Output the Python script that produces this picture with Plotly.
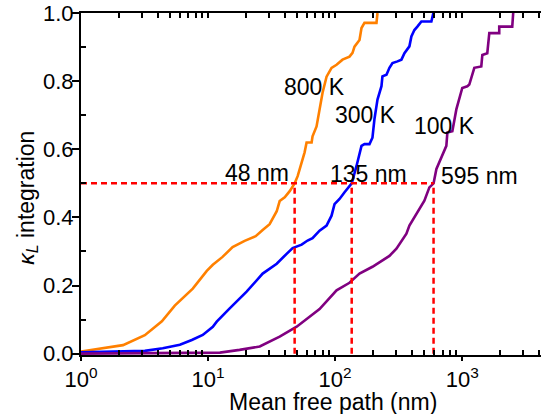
import math
import plotly.graph_objects as go

# ---- data ----
mfp_800 = [1.0, 2.14, 3.18, 4.33, 5.47, 7.58, 9.77, 10.9, 13.0, 15.6, 19.4, 23.7, 26.9, 30.5, 34.7,
           36.6, 40.1, 43.9, 48.0, 50.7, 57.5, 59.6, 65.3, 66.4, 71.4, 75.4, 79.6, 85.6, 93.7, 102.6,
           114.3, 129.7, 137.0, 142.0, 155.5, 161.2, 170.1, 211.5, 215.4]
kap_800 = [0.006, 0.025, 0.054, 0.095, 0.141, 0.191, 0.243, 0.261, 0.284, 0.313, 0.331, 0.345, 0.363, 0.380, 0.418,
           0.448, 0.459, 0.477, 0.500, 0.521, 0.591, 0.620, 0.620, 0.638, 0.667, 0.717, 0.766, 0.813, 0.839, 0.848,
           0.863, 0.872, 0.883, 0.901, 0.921, 0.956, 0.971, 0.971, 1.0]

mfp_300 = [1.0, 3.18, 4.40, 6.0, 7.45, 9.08, 10.9, 11.7, 14.8, 20.1, 26.9, 34.7, 41.5, 46.3, 54.5,
           60.7, 66.4, 75.4, 85.6, 93.7, 98.9, 108.3, 118.6, 135.0, 147.3, 161.2, 170.1, 186.3, 196.6, 203.8,
           215.4, 231.5, 235.6, 253.5, 267.5, 282.6, 309.3, 332.4, 351.0, 384.1, 398.1, 420.5, 443.8, 477.2,
           571.9, 593.0]
kap_300 = [0.004, 0.008, 0.016, 0.026, 0.040, 0.055, 0.079, 0.094, 0.133, 0.182, 0.235, 0.264, 0.293, 0.310, 0.320,
           0.332, 0.339, 0.361, 0.376, 0.405, 0.439, 0.454, 0.474, 0.500, 0.551, 0.610, 0.615, 0.615, 0.634, 0.688,
           0.746, 0.785, 0.814, 0.819, 0.839, 0.853, 0.858, 0.863, 0.882, 0.902, 0.931, 0.950, 0.960, 0.975,
           0.975, 1.0]

mfp_100 = [1.0, 6.0, 12.4, 17.7, 25.5, 36.6, 49.8, 75.4, 102.6, 129.7, 155.5, 196.6, 235.6, 267.5, 303.6,
           363.8, 384.1, 443.8, 503.8, 551.6, 595.0, 626.6, 661.1, 750.2, 764.2, 836.3, 899.0, 948.5, 1001,
           1097, 1137, 1245, 1413, 1440, 1575, 1634, 1956, 1956, 2476, 2519]
kap_100 = [0.0, 0.001, 0.003, 0.011, 0.021, 0.050, 0.079, 0.131, 0.186, 0.208, 0.235, 0.255, 0.274, 0.287, 0.308,
           0.352, 0.376, 0.415, 0.449, 0.488, 0.500, 0.542, 0.561, 0.610, 0.649, 0.653, 0.717, 0.751, 0.780,
           0.785, 0.790, 0.839, 0.843, 0.877, 0.882, 0.941, 0.941, 0.960, 0.960, 1.0]

temps = ["800 K", "300 K", "100 K"]
colors = ["#FF8000", "#0000FF", "#800080"]
half_mfp = [48, 135, 595]
half_labels = ["48 nm", "135 nm", "595 nm"]
half_level = 0.5

# label anchor positions (data units)
temp_label_x = [68.9, 172, 723]
temp_label_y = [0.784, 0.700, 0.668]
half_label_x = [24.3, 183, 1362]
half_label_y = [0.530, 0.527, 0.521]

x_tickvals = [1, 10, 100, 1000]
x_ticktext = ["10<sup>0</sup>", "10<sup>1</sup>", "10<sup>2</sup>", "10<sup>3</sup>"]
x_minor = [m * 10 ** e for e in range(0, 4) for m in range(2, 10)]
y_tickvals = [0.0, 0.2, 0.4, 0.6, 0.8, 1.0]
y_minor = [0.1, 0.3, 0.5, 0.7, 0.9]

x_title = "Mean free path (nm)"
y_title = "<i>κ</i><sub><i>L</i></sub> integration"

FONT = "Liberation Sans, Arial, sans-serif"
LBL = 23
X_RANGE = [0, 3.62]
Y_RANGE = [-0.004, 1.0]

fig = go.Figure()
for xs, ys, c, name in zip([mfp_800, mfp_300, mfp_100], [kap_800, kap_300, kap_100], colors, temps):
    fig.add_trace(go.Scatter(x=xs, y=ys, mode="lines", name=name,
                             line=dict(color=c, width=2.6), showlegend=False))

# dashed guide lines
fig.add_trace(go.Scatter(x=[1, max(half_mfp)], y=[half_level, half_level], mode="lines",
                         line=dict(color="#FF0000", width=2.5, dash="6px,4px"), showlegend=False))
for v in half_mfp:
    fig.add_trace(go.Scatter(x=[v, v], y=[0, half_level], mode="lines",
                             line=dict(color="#FF0000", width=2.5, dash="6px,4px"), showlegend=False))

# labels (annotation x on a log axis is given as log10)
for lx, ly, t in zip(temp_label_x, temp_label_y, temps):
    fig.add_annotation(x=math.log10(lx), y=ly, xref="x", yref="y", text=t, showarrow=False,
                       font=dict(size=LBL, color="black", family=FONT))
for lx, ly, t in zip(half_label_x, half_label_y, half_labels):
    fig.add_annotation(x=math.log10(lx), y=ly, xref="x", yref="y", text=t, showarrow=False,
                       font=dict(size=LBL, color="black", family=FONT))

# axis titles as annotations
fig.add_annotation(x=-0.117, y=0.46, xref="paper", yref="paper", text=y_title,
                   textangle=-90, showarrow=False, xanchor="center", yanchor="middle",
                   font=dict(size=LBL, color="black", family=FONT))
fig.add_annotation(x=0.548, y=-0.137, xref="paper", yref="paper", text=x_title,
                   showarrow=False, xanchor="center", yanchor="middle",
                   font=dict(size=LBL, color="black", family=FONT))

fig.update_layout(
    width=542, height=414,
    margin=dict(l=81, r=1, t=13, b=59),
    plot_bgcolor="white", paper_bgcolor="white",
    font=dict(family=FONT, size=22, color="black"),
    xaxis=dict(type="log", range=X_RANGE, tickmode="array", tickvals=x_tickvals, ticktext=x_ticktext,
               ticks="outside", ticklen=4, tickwidth=1.5, tickcolor="black",
               minor=dict(tickmode="array", tickvals=x_minor, ticks="inside", ticklen=5,
                          tickwidth=1.5, tickcolor="black", showgrid=False),
               showline=True, linewidth=2, linecolor="black", mirror=True,
               showgrid=False, zeroline=False, automargin=False,
               tickfont=dict(size=22)),
    xaxis2=dict(type="log", range=X_RANGE, overlaying="x", side="top", matches="x",
                tickmode="array", tickvals=x_tickvals, showticklabels=False,
                ticks="inside", ticklen=5, tickwidth=1.5, tickcolor="black",
                minor=dict(tickmode="array", tickvals=x_minor, ticks="inside", ticklen=5,
                           tickwidth=1.5, tickcolor="black", showgrid=False),
                showline=False, showgrid=False, zeroline=False, automargin=False),
    yaxis=dict(range=Y_RANGE, tickmode="array", tickvals=y_tickvals, tickformat=".1f",
               ticks="outside", ticklen=1, tickwidth=1.5, tickcolor="black",
               minor=dict(tickmode="array", tickvals=y_minor, ticks="inside", ticklen=5,
                          tickwidth=1.5, tickcolor="black", showgrid=False),
               showline=True, linewidth=2, linecolor="black", mirror=False,
               showgrid=False, zeroline=False, automargin=False,
               tickfont=dict(size=22)),
    # overlay axis only for the longer outward major ticks
    yaxis2=dict(range=Y_RANGE, overlaying="y", side="left", anchor="x", matches="y",
                tickmode="array", tickvals=y_tickvals, showticklabels=False,
                ticks="outside", ticklen=8, tickwidth=1.5, tickcolor="black",
                showline=False, showgrid=False, zeroline=False, automargin=False),
)
# invisible traces to activate the overlay axes
fig.add_trace(go.Scatter(x=[1], y=[0], xaxis="x2", mode="markers", marker=dict(opacity=0),
                         showlegend=False, hoverinfo="skip"))
fig.add_trace(go.Scatter(x=[1], y=[0], yaxis="y2", mode="markers", marker=dict(opacity=0),
                         showlegend=False, hoverinfo="skip"))

fig.write_html("out.html", config={"displayModeBar": False},
               post_script="document.body.style.margin='0';")
